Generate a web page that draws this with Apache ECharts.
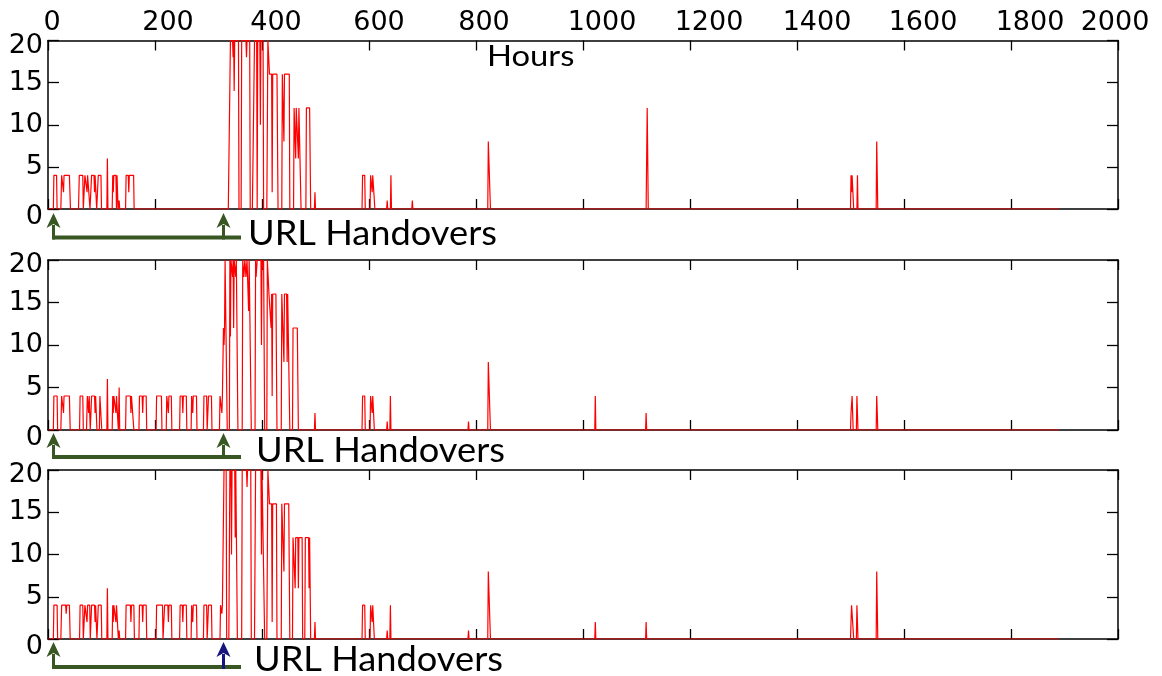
<!DOCTYPE html>
<html>
<head>
<meta charset="utf-8">
<script src="https://cdn.jsdelivr.net/npm/echarts@6/dist/echarts.min.js"></script>
<style>
html,body{margin:0;padding:0;background:#fff;}
#chart{width:1162px;height:676px;}
</style>
</head>
<body>
<div id="chart"></div>
<script>
// ---- data: [hours, value] breakpoints ----
const xTicks = [0, 200, 400, 600, 800, 1000, 1200, 1400, 1600, 1800, 2000];
const yTicks = [0, 5, 10, 15, 20];

const panel1 = [
  [0,0],[10,0],[11,4],[16,4],[17,0],
  [24,0],[25.5,4],[28,4],[29,2],[30,4],[40,4],[42,0],
  [57,0],[58.5,4],[65,4],[66,0],
  [68,0],[69,4],[72,4],[73,2],[74,4],[77,4],[78.5,0],
  [80,0],[81.5,4],[86,4],[87,2],[88,4],[90,4],[91,0],
  [93,0],[94,4],[99,4],[100,0],
  [110,0],[111,6],[112,0],
  [120,0],[121,4],[122,2],[123,4],[127,4],[128,0],[129,4],[130,4],[131,0],
  [132,0],[133,1],[134,0],
  [145,0],[146,4],[150,4],[151,2],[152,4],[160,4],[161,0],
  [337,0],[341,20],[345,20],[346,18],[347,20],[348,14],[349,20],[356,20],[357,0],
  [361,0],[362,20],[370,20],[371,18],[372,20],[377,20],[378,0],
  [382,0],[386,20],[390,20],[391,0],[392,20],[396,20],[397,10],[398,20],[402,20],[403,0],
  [409,0],[411,20],[414,16],[418,16],[419,2],[420,16],[428,16],[430,0],
  [437,0],[438,16],[440,16],[441,8],[442,16],[451,16],[452,0],
  [459,0],[460,12],[462,12],[463,6],[464,12],[467,12],[468,6],[469,12],[471,12],[473,0],
  [482,0],[483,12],[489,12],[490,6],[491,0],
  [498,0],[499,2],[500,0],
  [587,0],[588,4],[592,4],[593,0],[602,0],[603,4],[605,4],[606,2],[607,4],[609,4],[611,0],
  [633,0],[634,1],[635,0],[640,0],[641,4],[642,0],[680,0],[681,1],[682,0],
  [822,0],[823,8],[826,8],[827,0],
  [1118,0],[1120,12],[1122,0],
  [1500,0],[1501,4],[1502,2],[1503,4],[1505,4],[1506,0],[1512,0],[1513,4],[1514,0],
  [1548,0],[1549,8],[1550,8],[1551,0],
  [1890,0]
];

const panel2 = [
  [0,0],[10,0],[11,4],[17,4],[18,0],
  [24,0],[25.5,4],[28,4],[29,2],[30,4],[40,4],[41.5,0],
  [59,0],[60,4],[65,4],[66,0],
  [72,0],[73.5,4],[75,4],[76,2],[77,4],[78,4],[79,0],
  [80.5,0],[81.5,4],[87,4],[88,2],[89,4],[90.5,4],[91.5,0],
  [96,0],[97,4],[99.5,4],[100.5,0],
  [110,0],[111,6],[112,0],
  [120,0],[121,4],[122,2],[123,4],[126,4],[127,2],[128,4],[130.5,4],[131.5,0],
  [132,0],[133,5],[134,0],
  [145,0],[146,4],[154,4],[155,2],[156,4],[159.5,4],[160.5,0],
  [170,0],[171,4],[176,4],[177,2],[178,4],[183.5,4],[184.5,0],
  [202,0],[203,4],[212,4],[213,0],
  [221,0],[222,4],[224,4],[225,2],[226,4],[230.5,4],[231.5,0],
  [246,0],[247,4],[251,4],[252,2],[253,4],[258.5,4],[259.5,0],
  [267.5,0],[268.5,4],[269.5,4],[270.5,2],[271.5,4],[277.5,4],[278.5,0],
  [290.5,0],[291.5,4],[296.5,4],[297.5,0],
  [299,0],[300,4],[305.5,4],[306.5,0],
  [320.5,0],[321.5,4],[324,4],[325,2],[326,4],[327,4],[328,12],[329,10],[330,12],[331,20],[334,20],[335,0],
  [339,0],[340,20],[341,11],[342,20],[344,20],[345,18],[346,20],[347,12],[348,20],[351,18],[352,20],[353,20],[355,0],
  [363,0],[364,20],[366,18],[368,20],[370,18],[372,20],[374,20],[375,14],[376,20],[378,20],[380,0],
  [387,0],[388,20],[389,18],[391,20],[398,20],[399,10],[400,20],[402,19],[403,20],[405,0],
  [409,0],[410,20],[413,16],[416,16],[417,12],[418,16],[419,4],[420,16],[426,16],[428,0],
  [436,0],[437,16],[440,16],[441,8],[442,16],[446,16],[447,8],[448,16],[450,16],[452,0],
  [457,0],[458,12],[466,12],[468,0],
  [498,0],[499,2],[500,0],
  [587,0],[588,4],[592,4],[593,0],[602,0],[603,4],[605,4],[606,2],[607,4],[608,4],[610,0],
  [633,0],[634,1],[635,0],[639,0],[640,4],[641,0],
  [785,0],[786,1],[787,0],
  [822,0],[823,8],[826,8],[827,0],
  [1022,0],[1023,4],[1024,0],
  [1117,0],[1118,2],[1119,0],
  [1500,0],[1501,2],[1503,4],[1504,4],[1505,0],[1511,0],[1512,4],[1513,4],[1514,0],
  [1548,0],[1549,4],[1550,4],[1551,0],
  [1890,0]
];

const panel3 = [
  [0,0],[10,0],[11,4],[17,4],[18,0],
  [24,0],[25.5,4],[33,4],[34,3],[35,4],[40,4],[41.5,0],
  [59,0],[60,4],[65,4],[66,0],
  [68,0],[69,4],[72,4],[73,2],[74,4],[78,4],[79,0],
  [80.5,0],[81.5,4],[87,4],[88,2],[89,4],[90.5,4],[91.5,0],
  [93,0],[94,4],[99.5,4],[100.5,0],
  [110,0],[111,6],[112,0],
  [120,0],[121,4],[122,2],[123,4],[126,4],[127,2],[128,4],[130.5,4],[131.5,0],
  [132,0],[133,1],[134,0],
  [145,0],[146,4],[154,4],[155,2],[156,4],[160.5,4],[161.5,0],
  [170,0],[171,4],[176,4],[177,2],[178,4],[183.5,4],[184.5,0],
  [202,0],[203,4],[214,4],[215,0],
  [217,0],[218,4],[224,4],[225,2],[226,4],[230.5,4],[231.5,0],
  [246,0],[247,4],[251,4],[252,2],[253,4],[258.5,4],[259.5,0],
  [267.5,0],[268.5,4],[269.5,4],[270.5,2],[271.5,4],[277.5,4],[278.5,0],
  [290.5,0],[291.5,4],[296.5,4],[297.5,0],
  [299,0],[300,4],[305.5,4],[306.5,0],
  [321.5,0],[322.5,4],[324,4],[325,3],[326,4],[328,4],[329,20],[333,20],[334,0],
  [338,0],[340,20],[341,18],[342,20],[343,10],[344,20],[349,20],[350,12],[351,20],[353,20],[354,0],
  [362,0],[363,20],[371,20],[372,18],[373,20],[379,20],[380,0],
  [386,0],[388,20],[398,20],[399,10],[400,20],[403,20],[405,0],
  [409,0],[411,20],[414,16],[418,16],[419,2],[420,16],[427,16],[428,0],
  [436,0],[437,16],[440,16],[441,8],[442,16],[450,16],[452,0],
  [457,0],[458,12],[461,12],[462,6],[463,12],[467,12],[468,6],[469,12],[475,12],[476,0],
  [480,0],[481,12],[487,12],[488,6],[489,12],[490,12],[491,0],
  [498,0],[499,2],[500,0],
  [587,0],[588,4],[592,4],[593,0],[602,0],[603,4],[605,4],[606,2],[607,4],[608,4],[610,0],
  [633,0],[634,1],[635,0],[639,0],[640,4],[641,0],
  [785,0],[786,1],[787,0],
  [822,0],[823,8],[826,8],[827,0],
  [1022,0],[1023,2],[1024,0],
  [1117,0],[1118,2],[1119,0],
  [1500,0],[1501,2],[1502,4],[1505,4],[1506,0],[1511,0],[1512,4],[1513,4],[1514,0],
  [1548,0],[1549,8],[1550,8],[1551,0],
  [1890,0]
];

const panels = [panel1, panel2, panel3];
const annotationText = 'URL Handovers';
const axisTitle = 'Hours';

// ---- styling / layout ----
const NUM_FONT = 'DejaVu Sans';
const NUM_SIZE = 27;
const TXT_FONT = 'Lato';
const gridBoxes = [
  {top: 40.5, height: 168.5},
  {top: 260, height: 170},
  {top: 470, height: 169}
];
const xLabelNudge = {0:4,200:13,400:14,600:10,800:8,1000:19,1200:19,1400:20,1600:19,1800:19,2000:-3};
const xRich = {};
xTicks.forEach(v => {
  const n = xLabelNudge[v] || 0;
  xRich['l' + v] = {
    fontSize: NUM_SIZE, fontFamily: NUM_FONT, color: '#000',
    padding: n >= 0 ? [0, 0, 0, 2 * n] : [0, -2 * n, 0, 0]
  };
});
const yRich = {
  n: {fontSize: NUM_SIZE, fontFamily: NUM_FONT, color: '#000'},
  z: {fontSize: NUM_SIZE, fontFamily: NUM_FONT, color: '#000', padding: [16, 0, 0, 0]},
  t: {fontSize: NUM_SIZE, fontFamily: NUM_FONT, color: '#000', padding: [10, 0, 0, 0]}
};

const grids = [], xAxes = [], yAxes = [], series = [];
gridBoxes.forEach((g, i) => {
  grids.push({left: 48, width: 1070, top: g.top, height: g.height, show: false});
  const axLine = {show: true, onZero: false, lineStyle: {color: '#000', width: 1.5}};
  const tick = {show: true, inside: true, length: 10, lineStyle: {color: '#000', width: 1.3}};
  xAxes.push({
    gridIndex: i, type: 'value', min: 0, max: 2000, interval: 200, position: 'bottom',
    axisLine: axLine, axisTick: tick, axisLabel: {show: false}, splitLine: {show: false}
  });
  xAxes.push({
    gridIndex: i, type: 'value', min: 0, max: 2000, interval: 200, position: 'top',
    axisLine: axLine, axisTick: tick, splitLine: {show: false},
    axisLabel: {
      show: i === 0, margin: 4,
      formatter: v => '{l' + v + '|' + v + '}',
      rich: xRich
    }
  });
  yAxes.push({
    gridIndex: i, type: 'value', min: 0, max: 20, interval: 5, position: 'left',
    axisLine: axLine, axisTick: Object.assign({}, tick, {length: 11}), splitLine: {show: false},
    axisLabel: {
      margin: 5,
      formatter: v => (v === 0 ? '{z|0}' : v === 20 ? '{t|20}' : '{n|' + v + '}'),
      rich: yRich
    }
  });
  yAxes.push({
    gridIndex: i, type: 'value', min: 0, max: 20, interval: 5, position: 'right',
    axisLine: axLine, axisTick: Object.assign({}, tick, {length: 11}), splitLine: {show: false},
    axisLabel: {show: false}
  });
  series.push({
    type: 'line', xAxisIndex: 2 * i, yAxisIndex: 2 * i,
    data: panels[i], showSymbol: false, symbol: 'none', clip: true,
    lineStyle: {color: '#ff0000', width: 1.2}, z: 5
  });
});

// ---- annotation graphics ----
const GREEN = '#385723';
const BLUE = '#16167c';
function arrowHead(x, tip, color) {
  return {type: 'polygon', shape: {points: [[x - 7, tip + 15], [x, tip], [x + 7, tip + 15], [x, tip + 11]]},
          style: {fill: color}, z: 10};
}
function handover(lineY, tipY, colors, textMidY, textX) {
  const els = [];
  els.push({type: 'line', shape: {x1: 52.5, y1: lineY, x2: 241, y2: lineY},
            style: {stroke: GREEN, lineWidth: 4}, z: 10});
  [[53.5, colors[0]], [223.5, colors[1]]].forEach(([x, c]) => {
    els.push({type: 'line', shape: {x1: x, y1: lineY + 2, x2: x, y2: tipY + 12},
              style: {stroke: c, lineWidth: 3}, z: 11});
    els.push(arrowHead(x, tipY, c));
  });
  els.push({type: 'text', x: textX, y: textMidY, z: 10, scaleX: 1.035,
            style: {text: annotationText, font: '35px ' + TXT_FONT, fill: '#000',
                    textAlign: 'left', textVerticalAlign: 'middle', verticalAlign: 'middle'}});
  return els;
}
const graphics = [].concat(
  handover(237.5, 213, [GREEN, GREEN], 234, 248),
  handover(457, 433, [GREEN, GREEN], 451, 256),
  handover(667, 642, [GREEN, BLUE], 660, 254),
  [{type: 'text', x: 487, y: 57, z: 10, scaleX: 1.13,
    style: {text: axisTitle, font: '29px ' + TXT_FONT, fill: '#000',
            textAlign: 'left', textVerticalAlign: 'middle', verticalAlign: 'middle'}}]
);

const chart = echarts.init(document.getElementById('chart'), null, {renderer: 'canvas'});
chart.setOption({
  animation: false,
  backgroundColor: '#fff',
  grid: grids,
  xAxis: xAxes,
  yAxis: yAxes,
  series: series,
  graphic: graphics
});
</script>
</body>
</html>
